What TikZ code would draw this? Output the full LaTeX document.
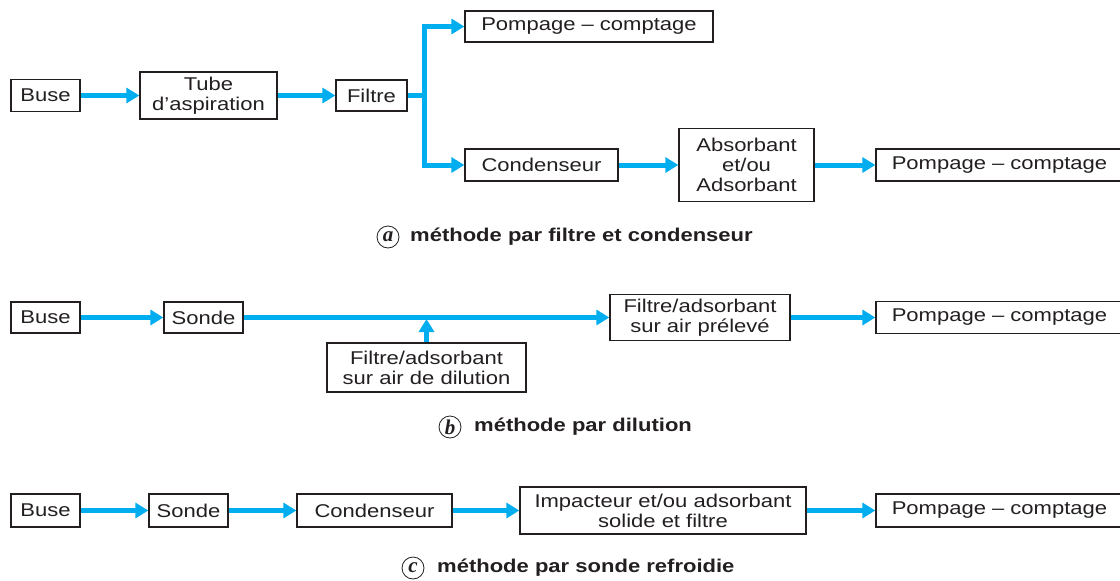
\documentclass[tikz,border=0pt]{standalone}
\usepackage{fontspec}
\setmainfont{Liberation Sans}[FakeStretch=1.19]
\newfontfamily\capserif{Liberation Serif}
\usetikzlibrary{arrows.meta}
\definecolor{flowc}{RGB}{0,174,239}
\definecolor{ink}{RGB}{35,31,32}
\begin{document}
\begin{tikzpicture}[x=1pt,y=-1pt,
  box/.style={draw=ink, line width=1.3pt, inner sep=0pt, align=center,
    font=\fontsize{18.5}{20}\selectfont, text=ink},
  flow/.style={draw=flowc, line width=5pt, line join=miter,
    -{Triangle[length=13pt,width=15pt]}},
  flowline/.style={draw=flowc, line width=5pt, line join=miter},
  letter/.style={circle, draw=ink, line width=0.8pt, inner sep=0pt,
    minimum size=22pt, font=\capserif\fontsize{21}{21}\selectfont\bfseries\itshape, text=ink},
  caption/.style={anchor=west, inner sep=0pt, text=ink,
    font=\fontsize{18.5}{20}\selectfont\bfseries}]
\useasboundingbox (0,0) rectangle (1120,581);
\clip (0,0) rectangle (1120,581);
% ---- (a)
\node[box, minimum width=69pt, minimum height=32pt] (a1) at (45.5,95.5) {Buse};
\node[box, minimum width=137pt, minimum height=47pt] (a2) at (208.5,95.5) {Tube\\d’aspiration};
\node[box, minimum width=71pt, minimum height=31pt] (a3) at (371.5,95.5) {Filtre};
\node[box, minimum width=248pt, minimum height=31pt] (a4) at (589,26.5) {Pompage – comptage};
\node[box, minimum width=153pt, minimum height=32pt] (a5) at (541.5,165) {Condenseur};
\node[box, minimum width=135pt, minimum height=73pt] (a6) at (746.5,165) {Absorbant\\et/ou\\Adsorbant};
\node[box, minimum width=247pt, minimum height=32pt] (a7) at (999.5,165) {Pompage – comptage};
\coordinate (br) at (424,95.5);
\draw[flow] (a1) -- (a2);
\draw[flow] (a2) -- (a3);
\draw[flowline] (a3.east) -- (br);
\draw[flow] (br) |- (a4.west);
\draw[flow] (br) |- (a5.west);
\draw[flow] (a5) -- (a6);
\draw[flow] (a6) -- (a7);
\node[letter] (la) at (388,237) {a};
\node[caption] (ta) at (410,237) {méthode par filtre et condenseur};
% ---- (b)
\node[box, minimum width=69pt, minimum height=31pt] (b1) at (45.5,317.5) {Buse};
\node[box, minimum width=79pt, minimum height=31pt] (b2) at (203.5,317.5) {Sonde};
\node[box, minimum width=180pt, minimum height=46pt] (b3) at (700,317.5) {Filtre/adsorbant\\sur air prélevé};
\node[box, minimum width=247pt, minimum height=32pt] (b4) at (999.5,317.5) {Pompage – comptage};
\node[box, minimum width=199pt, minimum height=49pt] (b5) at (426.5,367.5) {Filtre/adsorbant\\sur air de dilution};
\coordinate (bj) at (426.5,319);
\draw[flow] (b1) -- (b2);
\draw[flow] (b2) -- (b3);
\draw[flow] (b3) -- (b4);
\draw[flow] (b5.north) -- (bj);
\node[letter] (lb) at (450,427) {b};
\node[caption] (tb) at (474,427) {méthode par dilution};
% ---- (c)
\node[box, minimum width=69pt, minimum height=33pt] (c1) at (45.5,510.5) {Buse};
\node[box, minimum width=79pt, minimum height=33pt] (c2) at (188.5,510.5) {Sonde};
\node[box, minimum width=155pt, minimum height=33pt] (c3) at (374.5,510.5) {Condenseur};
\node[box, minimum width=286pt, minimum height=47pt] (c4) at (663,510.5) {Impacteur et/ou adsorbant\\solide et filtre};
\node[box, minimum width=247pt, minimum height=33pt] (c5) at (999.5,510.5) {Pompage – comptage};
\draw[flow] (c1) -- (c2);
\draw[flow] (c2) -- (c3);
\draw[flow] (c3) -- (c4);
\draw[flow] (c4) -- (c5);
\node[letter] (lc) at (413,568) {c};
\node[caption] (tc) at (437,568) {méthode par sonde refroidie};
\end{tikzpicture}
\end{document}
